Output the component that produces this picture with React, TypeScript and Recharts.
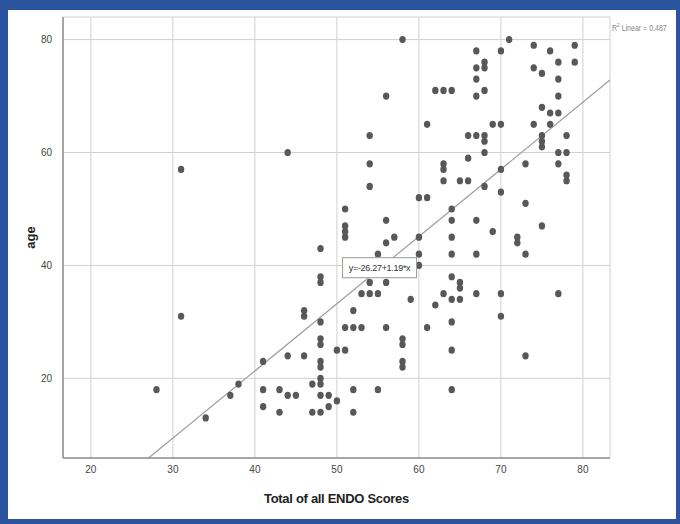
import React from 'react'
import { ScatterChart, Scatter, XAxis, YAxis, CartesianGrid, ReferenceLine, ReferenceDot } from 'recharts'

// total ENDO score (x) and the ages recorded at that score (y)
const scoreValues = [28, 31, 34, 37, 38, 41, 43, 44, 45, 46, 47, 48, 49, 50, 51, 52, 53, 54, 55, 56, 57, 58, 59, 60, 61, 62, 63, 64, 65, 66, 67, 68, 69, 70, 71, 72, 73, 74, 75, 76, 77, 78, 79]
const agesAtScore = [
  [18], [57, 31], [13], [17], [19], [23, 18, 15], [18, 14], [60, 24, 17], [17], [32, 31, 24], [19, 14],
  [43, 38, 37, 30, 27, 26, 23, 22, 20, 19, 17, 14], [17, 15], [25, 16], [50, 47, 46, 45, 29, 25],
  [32, 29, 18, 14], [35, 29], [63, 58, 54, 37, 35], [42, 35, 18], [70, 48, 44, 37, 29], [45],
  [80, 27, 26, 23, 22], [34], [52, 45, 42, 40], [65, 52, 29], [71, 33], [71, 58, 57, 55, 35],
  [71, 50, 48, 45, 42, 38, 34, 30, 25, 18], [55, 37, 36, 34], [63, 59, 55],
  [78, 75, 73, 70, 63, 48, 42, 35], [76, 75, 71, 63, 62, 60, 54], [65, 46], [78, 65, 57, 53, 35, 31],
  [80], [45, 44], [58, 51, 42, 24], [79, 75, 65], [74, 68, 63, 62, 61, 47], [78, 67, 65],
  [76, 73, 70, 67, 60, 58, 35], [63, 60, 56, 55], [79, 76],
]

const xTicks = [20, 30, 40, 50, 60, 70, 80]
const yTicks = [20, 40, 60, 80]
const xDomain = [16.6, 83.3]
const yDomain = [5.9, 84]

// fit line reported in the chart
const intercept = -26.27
const slope = 1.19
const rSquared = 0.487
const fitLabel = 'y=-26.27+1.19*x'

const points = scoreValues.flatMap((score, i) => agesAtScore[i].map((age) => ({ score, age })))

const fitStart = { x: (yDomain[0] - intercept) / slope, y: yDomain[0] }
const fitEnd = { x: xDomain[1], y: intercept + slope * xDomain[1] }

const font = '"Liberation Sans Narrow", "Liberation Sans", Arial, sans-serif'

const Dot = (props: any) => <ellipse cx={props.cx} cy={props.cy} rx={3.2} ry={3.6} fill="#585858" />

const FitBox = (props: any) => {
  const { cx, cy } = props
  return (
    <g>
      <rect x={cx - 37} y={cy - 10} width={74} height={20} fill="#fff" stroke="#9a9a9a" strokeWidth={1} />
      <text x={cx} y={cy + 3} textAnchor="middle" fontSize={9} letterSpacing={-0.3} fontFamily={font} fill="#333">
        {fitLabel}
      </text>
    </g>
  )
}

export default function App() {
  return (
    <div style={{ position: 'fixed', left: 0, top: 0, width: 680, height: 524, background: '#fff' }}>
      <ScatterChart width={680} height={524} margin={{ top: 17, right: 70, bottom: 16, left: 23 }}>
        <CartesianGrid stroke="#d6cfcf" strokeWidth={1} />
        <XAxis
          type="number"
          dataKey="score"
          domain={xDomain}
          ticks={xTicks}
          allowDataOverflow
          height={50}
          tickLine={false}
          axisLine={{ stroke: '#8f8f8f', strokeWidth: 1.5 }}
          tick={{ fontSize: 10, fill: '#444', fontFamily: font }}
          label={{ value: 'Total of all ENDO Scores', position: 'insideBottom', offset: 5, style: { fontSize: 13, letterSpacing: -0.3, fontWeight: 'bold', fill: '#222', fontFamily: font } }}
        />
        <YAxis
          type="number"
          dataKey="age"
          domain={yDomain}
          ticks={yTicks}
          allowDataOverflow
          width={40}
          tickLine={false}
          tickMargin={5}
          axisLine={{ stroke: '#8f8f8f', strokeWidth: 1.5 }}
          tick={{ fontSize: 10, fill: '#444', fontFamily: font }}
          label={{ value: 'age', angle: -90, position: 'insideLeft', offset: 7, style: { textAnchor: 'middle', fontSize: 13, fontWeight: 'bold', fill: '#222', fontFamily: font } }}
        />
        <Scatter data={points} shape={Dot} isAnimationActive={false} />
        <ReferenceLine segment={[fitStart, fitEnd]} stroke="#a39c9c" strokeWidth={1.2} ifOverflow="visible" />
        <ReferenceDot x={55.2} y={39.6} r={0} shape={FitBox} ifOverflow="visible" />
      </ScatterChart>
      <div
        style={{
          position: 'absolute', left: 612, top: 22, fontSize: 9, color: '#888', fontFamily: font, whiteSpace: 'nowrap',
          transform: 'scaleX(0.78)', transformOrigin: 'left top',
        }}
      >
        R<sup style={{ fontSize: 6 }}>2</sup> Linear = {rSquared}
      </div>
      <div
        style={{
          position: 'absolute', left: 0, top: 0, width: 680, height: 524, boxSizing: 'border-box',
          borderStyle: 'solid', borderColor: '#2b549f', borderWidth: '10px 4px 5px 8px', pointerEvents: 'none',
        }}
      />
    </div>
  )
}
